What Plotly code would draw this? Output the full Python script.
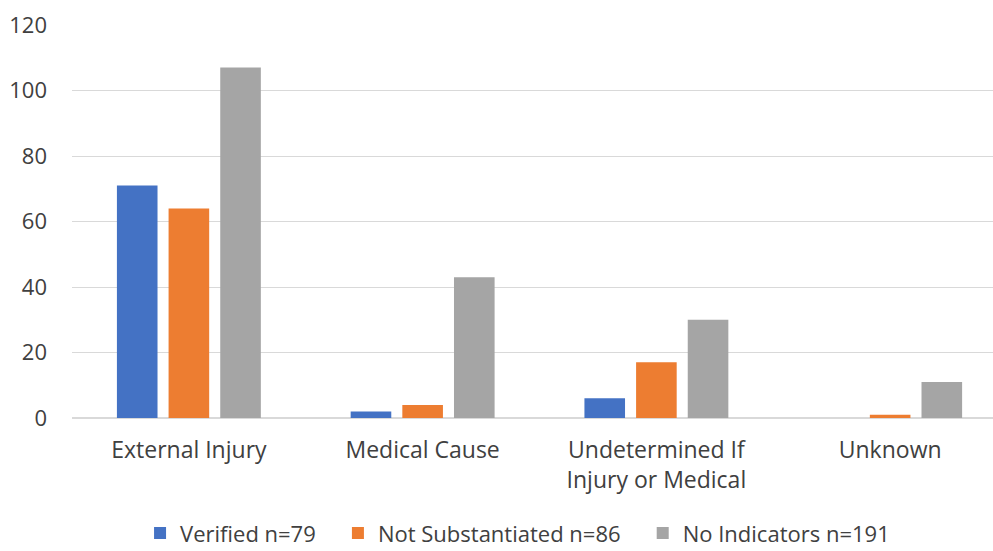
import plotly.graph_objects as go

categories = ["External Injury", "Medical Cause", "Undetermined If<br>Injury or Medical", "Unknown"]
verified = [71, 2, 6, 0]
not_substantiated = [64, 4, 17, 1]
no_indicators = [107, 43, 30, 11]
series_names = ["Verified n=79", "Not Substantiated n=86", "No Indicators n=191"]
colors = ["#4472C4", "#ED7D31", "#A5A5A5"]

fig = go.Figure()
for name, vals, col in zip(series_names, [verified, not_substantiated, no_indicators], colors):
    # trailing nbsp widens the gap between legend entries
    fig.add_trace(go.Bar(x=categories, y=vals, name=name + "\u00a0\u00a0\u00a0", marker_color=col,
                         marker_line_width=0))

fig.update_layout(
    width=993, height=551,
    # autoexpand off: the low legend must not squeeze the plot area
    margin=dict(l=72, r=0, t=25, b=133, autoexpand=False),
    plot_bgcolor="white", paper_bgcolor="white",
    barmode="group", bargap=0.337, bargroupgap=0.214,
    font=dict(family="Open Sans", size=22, color="#404040"),
    legend=dict(orientation="h", x=0.493, xanchor="center", y=-0.293, yanchor="middle",
                font=dict(size=22), itemwidth=30, tracegroupgap=0),
)
fig.update_yaxes(range=[0, 120], dtick=20, showgrid=True, gridcolor="#D9D9D9",
                 gridwidth=1, zeroline=True, zerolinecolor="#D9D9D9", ticks="",
                 ticklabelstandoff=24, automargin=False)
fig.update_xaxes(range=[-0.5, 3.44], showline=False, ticks="", tickfont=dict(size=23),
                 ticklabelstandoff=16, automargin=False)

# drop the default body margin so the figure fills the window exactly
fig.write_html("out.html", config={"displayModeBar": False},
               post_script="document.body.style.margin='0';")
